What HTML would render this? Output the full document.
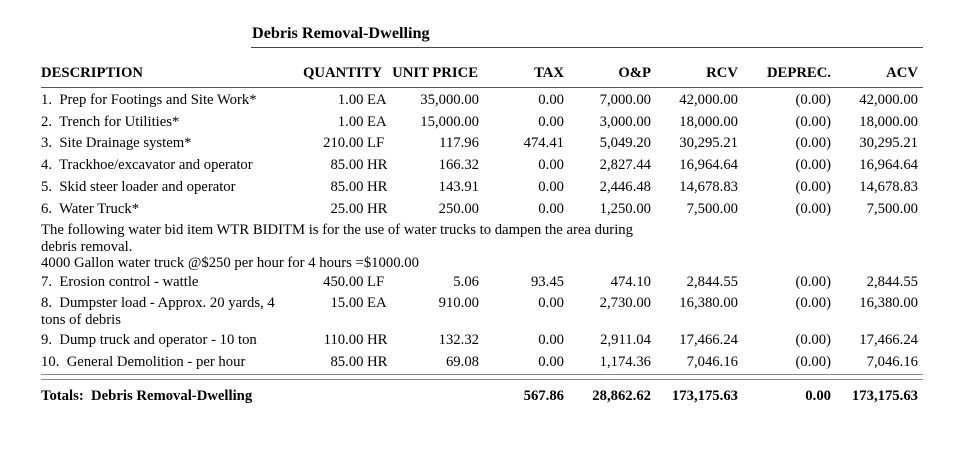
<!DOCTYPE html>
<html>
<head>
<meta charset="utf-8">
<style>
  html, body { margin:0; padding:0; background:#fff; }
  body { width:966px; height:452px; position:relative; overflow:hidden;
         font-family:"Liberation Serif", "Times New Roman", serif; color:#000; }
  .r { position:absolute; left:0; width:966px; height:17px; font-size:14.7px; line-height:17px; white-space:nowrap; }
  .r div { position:absolute; top:0; }
  .b { font-weight:bold; }
  .d { left:41px; }
  .qn { right:602.5px; }
  .qu { left:367px; }
  .up { right:487px; }
  .tx { right:402px; }
  .op { right:315px; }
  .rc { right:228px; }
  .dp { right:135px; }
  .ac { right:48px; }
  .line { position:absolute; }
</style>
</head>
<body>
<div style="position:absolute;left:252px;top:24px;font-size:16.2px;line-height:18px;font-weight:bold;white-space:nowrap;">Debris Removal-Dwelling</div>
<div class="line" style="left:251px;top:46.5px;width:672px;height:1px;background:#444;"></div>

<div class="r b" style="top:64.5px;">
  <div class="d">DESCRIPTION</div>
  <div style="left:303px;">QUANTITY</div>
  <div style="right:488px;">UNIT PRICE</div>
  <div class="tx">TAX</div>
  <div class="op">O&amp;P</div>
  <div class="rc">RCV</div>
  <div class="dp">DEPREC.</div>
  <div class="ac">ACV</div>
</div>
<div class="line" style="left:41px;top:86.5px;width:882px;height:1px;background:#555;"></div>

<div class="r" style="top:92px;">
  <div class="d">1.&nbsp; Prep for Footings and Site Work*</div>
  <div class="qn">1.00</div><div class="qu">EA</div>
  <div class="up">35,000.00</div><div class="tx">0.00</div><div class="op">7,000.00</div>
  <div class="rc">42,000.00</div><div class="dp">(0.00)</div><div class="ac">42,000.00</div>
</div>
<div class="r" style="top:113.7px;">
  <div class="d">2.&nbsp; Trench for Utilities*</div>
  <div class="qn">1.00</div><div class="qu">EA</div>
  <div class="up">15,000.00</div><div class="tx">0.00</div><div class="op">3,000.00</div>
  <div class="rc">18,000.00</div><div class="dp">(0.00)</div><div class="ac">18,000.00</div>
</div>
<div class="r" style="top:135.4px;">
  <div class="d">3.&nbsp; Site Drainage system*</div>
  <div class="qn">210.00</div><div class="qu">LF</div>
  <div class="up">117.96</div><div class="tx">474.41</div><div class="op">5,049.20</div>
  <div class="rc">30,295.21</div><div class="dp">(0.00)</div><div class="ac">30,295.21</div>
</div>
<div class="r" style="top:157.1px;">
  <div class="d">4.&nbsp; Trackhoe/excavator and operator</div>
  <div class="qn">85.00</div><div class="qu">HR</div>
  <div class="up">166.32</div><div class="tx">0.00</div><div class="op">2,827.44</div>
  <div class="rc">16,964.64</div><div class="dp">(0.00)</div><div class="ac">16,964.64</div>
</div>
<div class="r" style="top:178.8px;">
  <div class="d">5.&nbsp; Skid steer loader and operator</div>
  <div class="qn">85.00</div><div class="qu">HR</div>
  <div class="up">143.91</div><div class="tx">0.00</div><div class="op">2,446.48</div>
  <div class="rc">14,678.83</div><div class="dp">(0.00)</div><div class="ac">14,678.83</div>
</div>
<div class="r" style="top:200.5px;">
  <div class="d">6.&nbsp; Water Truck*</div>
  <div class="qn">25.00</div><div class="qu">HR</div>
  <div class="up">250.00</div><div class="tx">0.00</div><div class="op">1,250.00</div>
  <div class="rc">7,500.00</div><div class="dp">(0.00)</div><div class="ac">7,500.00</div>
</div>

<div class="r" style="top:221.5px;"><div class="d">The following water bid item WTR BIDITM is for the use of water trucks to dampen the area during</div></div>
<div class="r" style="top:238.5px;"><div class="d">debris removal.</div></div>
<div class="r" style="top:254.5px;"><div class="d">4000 Gallon water truck @$250 per hour for 4 hours =$1000.00</div></div>

<div class="r" style="top:273.5px;">
  <div class="d">7.&nbsp; Erosion control - wattle</div>
  <div class="qn">450.00</div><div class="qu">LF</div>
  <div class="up">5.06</div><div class="tx">93.45</div><div class="op">474.10</div>
  <div class="rc">2,844.55</div><div class="dp">(0.00)</div><div class="ac">2,844.55</div>
</div>
<div class="r" style="top:294.5px;">
  <div class="d">8.&nbsp; Dumpster load - Approx. 20 yards, 4</div>
  <div class="qn">15.00</div><div class="qu">EA</div>
  <div class="up">910.00</div><div class="tx">0.00</div><div class="op">2,730.00</div>
  <div class="rc">16,380.00</div><div class="dp">(0.00)</div><div class="ac">16,380.00</div>
</div>
<div class="r" style="top:311.5px;"><div class="d">tons of debris</div></div>
<div class="r" style="top:331.5px;">
  <div class="d">9.&nbsp; Dump truck and operator - 10 ton</div>
  <div class="qn">110.00</div><div class="qu">HR</div>
  <div class="up">132.32</div><div class="tx">0.00</div><div class="op">2,911.04</div>
  <div class="rc">17,466.24</div><div class="dp">(0.00)</div><div class="ac">17,466.24</div>
</div>
<div class="r" style="top:354.2px;">
  <div class="d">10.&nbsp; General Demolition - per hour</div>
  <div class="qn">85.00</div><div class="qu">HR</div>
  <div class="up">69.08</div><div class="tx">0.00</div><div class="op">1,174.36</div>
  <div class="rc">7,046.16</div><div class="dp">(0.00)</div><div class="ac">7,046.16</div>
</div>

<div class="line" style="left:41px;top:373.5px;width:882px;height:1.5px;background:#8a8a8a;"></div>
<div class="line" style="left:41px;top:378.5px;width:882px;height:1.5px;background:#8a8a8a;"></div>

<div class="r b" style="top:388.2px;">
  <div class="d">Totals:&nbsp; Debris Removal-Dwelling</div>
  <div class="tx">567.86</div><div class="op">28,862.62</div>
  <div class="rc">173,175.63</div><div class="dp">0.00</div><div class="ac">173,175.63</div>
</div>
</body>
</html>
